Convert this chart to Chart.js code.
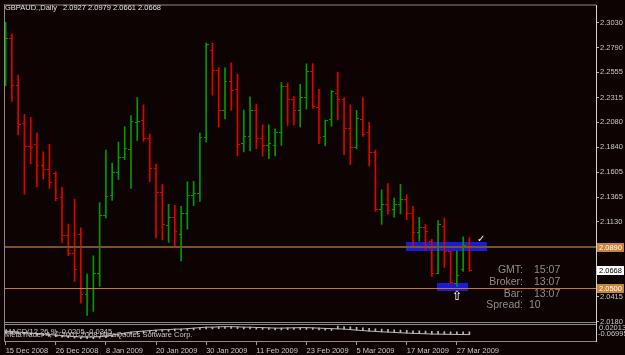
<!DOCTYPE html>
<html>
<head>
<meta charset="utf-8">
<script src="https://cdn.jsdelivr.net/npm/chart.js@4.4.1/dist/chart.umd.min.js"></script>
<style>
  html, body { margin: 0; padding: 0; background: #0d0303; }
  #ohlc { display: block; }
</style>
</head>
<body>
<canvas id="ohlc" width="625" height="355"></canvas>
<script>
const symbolTitle = "GBPAUD.,Daily";

const dates = [
  "15 Dec 2008", "16 Dec 2008", "17 Dec 2008", "18 Dec 2008", "19 Dec 2008", "22 Dec 2008", "23 Dec 2008", "24 Dec 2008",
  "26 Dec 2008", "29 Dec 2008", "30 Dec 2008", "31 Dec 2008", "2 Jan 2009", "5 Jan 2009", "6 Jan 2009", "7 Jan 2009",
  "8 Jan 2009", "9 Jan 2009", "12 Jan 2009", "13 Jan 2009", "14 Jan 2009", "15 Jan 2009", "16 Jan 2009", "19 Jan 2009",
  "20 Jan 2009", "21 Jan 2009", "22 Jan 2009", "23 Jan 2009", "26 Jan 2009", "27 Jan 2009", "28 Jan 2009", "29 Jan 2009",
  "30 Jan 2009", "2 Feb 2009", "3 Feb 2009", "4 Feb 2009", "5 Feb 2009", "6 Feb 2009", "9 Feb 2009", "10 Feb 2009",
  "11 Feb 2009", "12 Feb 2009", "13 Feb 2009", "16 Feb 2009", "17 Feb 2009", "18 Feb 2009", "19 Feb 2009", "20 Feb 2009",
  "23 Feb 2009", "24 Feb 2009", "25 Feb 2009", "26 Feb 2009", "27 Feb 2009", "2 Mar 2009", "3 Mar 2009", "4 Mar 2009",
  "5 Mar 2009", "6 Mar 2009", "9 Mar 2009", "10 Mar 2009", "11 Mar 2009", "12 Mar 2009", "13 Mar 2009", "16 Mar 2009",
  "17 Mar 2009", "18 Mar 2009", "19 Mar 2009", "20 Mar 2009", "23 Mar 2009", "24 Mar 2009", "25 Mar 2009", "26 Mar 2009",
  "27 Mar 2009", "30 Mar 2009", "31 Mar 2009"
];

const opens = [
  2.2600, 2.2879, 2.2429, 2.2070, 2.1844, 2.1872, 2.1664, 2.1633, 2.1589, 2.1362,
  2.1001, 2.0831, 2.1010, 2.0435, 2.0497, 2.0633, 2.1190, 2.1379, 2.1598, 2.1747,
  2.1822, 2.2080, 2.2096, 2.1926, 2.1636, 2.1412, 2.1095, 2.1174, 2.1010, 2.1214,
  2.1381, 2.1397, 2.1935, 2.2766, 2.2577, 2.2190, 2.2473, 2.2388, 2.1879, 2.1945,
  2.2190, 2.1922, 2.1860, 2.1860, 2.1979, 2.2417, 2.2294, 2.2190, 2.2313, 2.2564,
  2.2221, 2.1945, 2.2105, 2.2353, 2.2297, 2.2016, 2.1841, 2.2105, 2.1982, 2.1794,
  2.1252, 2.1294, 2.1246, 2.1294, 2.1344, 2.1209, 2.1032, 2.1079, 2.0947, 2.0639,
  2.1089, 2.0843, 2.0539, 2.0674, 2.0927
];
const highs = [
  2.3033, 2.2920, 2.2530, 2.2155, 2.2127, 2.1976, 2.1797, 2.1869, 2.1608, 2.1460,
  2.1110, 2.1346, 2.1073, 2.0633, 2.0806, 2.1315, 2.1815, 2.1690, 2.1891, 2.2039,
  2.2143, 2.2316, 2.2247, 2.1966, 2.1680, 2.1485, 2.1296, 2.1287, 2.1278, 2.1511,
  2.1516, 2.1976, 2.2835, 2.2835, 2.2599, 2.2599, 2.2646, 2.2536, 2.2196, 2.2322,
  2.2252, 2.2054, 2.2054, 2.2016, 2.2457, 2.2454, 2.2325, 2.2441, 2.2637, 2.2639,
  2.2394, 2.2101, 2.2382, 2.2558, 2.2316, 2.2247, 2.2193, 2.2316, 2.2080, 2.1815,
  2.1435, 2.1495, 2.1356, 2.1488, 2.1388, 2.1278, 2.1174, 2.1105, 2.0963, 2.1143,
  2.1167, 2.0853, 2.0853, 2.0988, 2.0979
];
const lows = [
  2.2429, 2.2278, 2.1960, 2.1394, 2.1686, 2.1466, 2.1539, 2.1450, 2.1331, 2.0931,
  2.0808, 2.0563, 2.0355, 2.0239, 2.0277, 2.0516, 2.1167, 2.1334, 2.1535, 2.1724,
  2.1450, 2.1907, 2.1898, 2.1513, 2.0978, 2.0957, 2.0935, 2.0891, 2.0758, 2.1060,
  2.1284, 2.1325, 2.1891, 2.2337, 2.2035, 2.2111, 2.2196, 2.1759, 2.1797, 2.1806,
  2.1828, 2.1756, 2.1733, 2.1759, 2.1860, 2.2049, 2.2054, 2.2035, 2.2205, 2.2212,
  2.1875, 2.1853, 2.2042, 2.2101, 2.1771, 2.1677, 2.1825, 2.1945, 2.1664, 2.1230,
  2.1105, 2.1205, 2.1174, 2.1205, 2.1152, 2.0893, 2.0947, 2.0859, 2.0610, 2.0633,
  2.0695, 2.0539, 2.0516, 2.0657, 2.0661
];
const closes = [
  2.2879, 2.2429, 2.2058, 2.1853, 2.1839, 2.1664, 2.1633, 2.1504, 2.1350, 2.1001,
  2.0831, 2.0680, 2.0435, 2.0497, 2.0639, 2.1190, 2.1372, 2.1598, 2.1747, 2.1828,
  2.2083, 2.2089, 2.1926, 2.1636, 2.1412, 2.1105, 2.1174, 2.1035, 2.1214, 2.1378,
  2.1397, 2.1935, 2.2819, 2.2577, 2.2190, 2.2473, 2.2379, 2.1869, 2.1945, 2.2190,
  2.1922, 2.1860, 2.1879, 2.1979, 2.2417, 2.2294, 2.2190, 2.2313, 2.2564, 2.2228,
  2.1938, 2.2096, 2.2369, 2.2297, 2.2016, 2.1841, 2.2111, 2.1960, 2.1794, 2.1252,
  2.1294, 2.1243, 2.1294, 2.1344, 2.1209, 2.1032, 2.1079, 2.1039, 2.0633, 2.1105,
  2.0843, 2.0554, 2.0617, 2.0909, 2.0668
];

// MACD sub window (signal line and histogram tips)
const macdSignal = [
  -0.0163, -0.0189, -0.0215, -0.0241, -0.0267, -0.0293, -0.0319, -0.0345, -0.0372, -0.0398,
  -0.0424, -0.0450, -0.0476, -0.0476, -0.0476, -0.0450, -0.0424, -0.0372, -0.0319, -0.0267,
  -0.0215, -0.0189, -0.0163, -0.0137, -0.0111, -0.0085, -0.0085, -0.0059, -0.0059, -0.0033,
  -0.0007, 0.0019, 0.0045, 0.0045, 0.0061, 0.0071, 0.0071, 0.0061, 0.0045, 0.0045,
  0.0029, 0.0019, 0.0009, -0.0007, -0.0007, 0.0003, 0.0009, 0.0019, 0.0019, 0.0009,
  -0.0007, -0.0023, -0.0033, -0.0043, -0.0059, -0.0085, -0.0111, -0.0137, -0.0163, -0.0179,
  -0.0200, -0.0215, -0.0231, -0.0252, -0.0267, -0.0283, -0.0293, -0.0304, -0.0319, -0.0319,
  -0.0330, -0.0335, -0.0340, -0.0345, -0.0345
];
const macdHist = [
  -0.0253, -0.0279, -0.0305, -0.0331, -0.0357, -0.0383, -0.0409, -0.0435, -0.0462, -0.0488,
  -0.0514, -0.0540, -0.0566, -0.0566, -0.0566, -0.0540, -0.0514, -0.0462, -0.0409, -0.0357,
  -0.0305, -0.0279, -0.0253, -0.0227, -0.0201, -0.0175, -0.0175, -0.0149, -0.0149, -0.0123,
  -0.0097, -0.0071, -0.0045, -0.0045, -0.0029, -0.0019, -0.0019, -0.0029, -0.0045, -0.0045,
  -0.0061, -0.0071, -0.0081, -0.0097, -0.0097, -0.0087, -0.0081, -0.0071, -0.0071, -0.0081,
  -0.0097, -0.0113, -0.0123, 0.0097, 0.0081, 0.0055, 0.0029, 0.0003, -0.0023, -0.0039,
  -0.0060, -0.0075, -0.0091, -0.0112, -0.0127, -0.0143, -0.0153, -0.0164, -0.0179, -0.0179,
  -0.0190, -0.0195, -0.0200, -0.0205, -0.0205
];

const dateTickIdx = [0, 8, 16, 24, 32, 40, 48, 56, 64, 72];
const priceTicks = [2.3030, 2.2790, 2.2555, 2.2315, 2.2080, 2.1840, 2.1605, 2.1365, 2.1130, 2.0890, 2.0415, 2.0180];
const macdLabels = ["0.02013", "-0.06995"];

// chart objects drawn on top of the bars
const levels = [2.0890, 2.0500];
const zones = [
  { from: 63.9, to: 76.9, top: 2.0938, bottom: 2.0853 },
  { from: 68.9, to: 73.9, top: 2.0548, bottom: 2.0469 }
];
const checkMark = { x: 75.9, y: 2.0966 };
const upArrow = { x: 72.0, y: 2.0419 };
const infoRows = [["GMT:", "15:07"], ["Broker:", "13:07"], ["Bar:", "13:07"], ["Spread:", "10"]];

const UP = "#009a00", DOWN = "#e00000";
const FONT = "Liberation Sans";
Chart.defaults.font.family = FONT;

function tickImage(color, side) {
  const c = document.createElement("canvas");
  c.width = 5; c.height = 1;
  const g = c.getContext("2d");
  g.fillStyle = color;
  if (side === "open") g.fillRect(0, 0, 2, 1);
  else g.fillRect(3, 0, 2, 1);
  return c;
}
const imgs = {
  openUp: tickImage(UP, "open"), openDown: tickImage(DOWN, "open"),
  closeUp: tickImage(UP, "close"), closeDown: tickImage(DOWN, "close")
};
const isUp = (i) => closes[i] > opens[i];

const mt4Plugin = {
  id: "mt4",
  beforeDraw(chart) {
    const c = chart.ctx;
    c.save();
    c.fillStyle = "#0d0303";
    c.fillRect(0, 0, chart.width, chart.height);
    c.restore();
    c.imageSmoothingEnabled = false;
  },
  beforeDatasetsDraw(chart) {
    const c = chart.ctx, xs = chart.scales.x, ys = chart.scales.y;
    c.save();
    c.fillStyle = "#1a1ad8";
    zones.forEach(z => {
      const x1 = xs.getPixelForValue(z.from), x2 = xs.getPixelForValue(z.to);
      const y1 = ys.getPixelForValue(z.top), y2 = ys.getPixelForValue(z.bottom);
      c.fillRect(Math.round(x1), Math.round(y1), Math.round(x2 - x1), Math.round(y2 - y1));
    });
    c.restore();
  },
  afterDatasetsDraw(chart) {
    const c = chart.ctx, a = chart.chartArea, xs = chart.scales.x, ys = chart.scales.y;
    c.save();
    // level lines
    const lvlColors = ["#7a5226", "#c87a34"];
    levels.forEach((v, k) => {
      const y = Math.round(ys.getPixelForValue(v));
      c.fillStyle = lvlColors[k];
      c.fillRect(a.left, y - (k === 0 ? 1 : 0), a.right - a.left, k === 0 ? 2 : 1);
    });
    // frame and sub window separators
    c.fillStyle = "#8a8a8a";
    c.fillRect(a.left - 1, a.top - 1, 1, a.bottom - a.top + 1);
    c.fillRect(a.left - 1, a.top - 1, a.right - a.left + 1, 1);
    c.fillRect(a.left - 1, 322, a.right - a.left + 1, 1);
    c.fillRect(a.left - 1, 324, a.right - a.left + 1, 1);
    c.fillRect(a.left - 1, a.bottom, a.right - a.left + 1, 1);

    // price tags on the right axis
    const tags = [
      { v: levels[0], bg: "#c8843c", fg: "#ffffff" },
      { v: closes[closes.length - 1], bg: "#ffffff", fg: "#000000" },
      { v: levels[1], bg: "#c8843c", fg: "#ffffff" }
    ];
    c.font = "7.5px " + FONT;
    c.textBaseline = "middle";
    c.textAlign = "left";
    tags.forEach(t => {
      const y = Math.round(ys.getPixelForValue(t.v));
      c.fillStyle = t.bg;
      c.fillRect(a.right + 1, y - 4, 27, 9);
      c.fillStyle = t.fg;
      c.fillText(t.v.toFixed(4), a.right + 3, y + 0.5);
    });

    // sub window scale labels
    c.fillStyle = "#c8c8c8";
    c.fillText(macdLabels[0], a.right + 3, 328);
    c.fillText(macdLabels[1], a.right + 2, 333.5);

    // header and indicator captions
    const n = closes.length - 1;
    c.fillStyle = "#e0e0e0";
    c.fillText(symbolTitle, 5, 7.5);
    c.fillText([opens[n], highs[n], lows[n], closes[n]].map(v => v.toFixed(4)).join(" "), 63, 7.5);
    c.fillStyle = "#c8c8c8";
    c.fillText("MACD(12,26,9) " + macdHist[n].toFixed(4) + " " + macdSignal[n].toFixed(4), 5, 331.5);
    c.fillText("MetaTrader 4, \u00a9 2001-2008 MetaQuotes Software Corp.", 5, 334.5);

    // clock panel
    c.font = "10.5px " + FONT;
    c.fillStyle = "#8e8e8e";
    infoRows.forEach((r, k) => {
      const y = 270.5 + k * 11.7;
      c.textAlign = "right";
      c.fillText(r[0], 523, y);
      c.textAlign = "left";
      c.fillText(r[1], r[0] === "Spread:" ? 529 : 534, y);
    });

    // arrow objects
    c.fillStyle = "#ffffff";
    c.textAlign = "center";
    c.font = "bold 10px DejaVu Sans";
    c.fillText("\u2713", xs.getPixelForValue(checkMark.x), ys.getPixelForValue(checkMark.y));
    c.font = "13px DejaVu Sans";
    c.fillText("\u21e7", xs.getPixelForValue(upArrow.x), ys.getPixelForValue(upArrow.y));
    c.restore();
  }
};

const idx = closes.map((_, i) => i);
const axisFont = { family: FONT, size: 7.5 };

new Chart(document.getElementById("ohlc").getContext("2d"), {
  type: "bar",
  data: {
    datasets: [
      {
        type: "scatter",
        data: idx.map(i => ({ x: i, y: opens[i] })),
        pointStyle: (ctx) => isUp(ctx.dataIndex) ? imgs.openUp : imgs.openDown,
        pointRadius: 1,
        yAxisID: "y"
      },
      {
        type: "scatter",
        data: idx.map(i => ({ x: i, y: closes[i] })),
        pointStyle: (ctx) => isUp(ctx.dataIndex) ? imgs.closeUp : imgs.closeDown,
        pointRadius: 1,
        yAxisID: "y"
      },
      {
        type: "bar",
        data: idx.map(i => ({ x: i, y: [lows[i], highs[i]] })),
        backgroundColor: (ctx) => isUp(ctx.dataIndex) ? UP : DOWN,
        borderWidth: 0,
        barThickness: 1,
        grouped: false,
        yAxisID: "y"
      },
      {
        type: "line",
        data: idx.map(i => ({ x: i, y: macdSignal[i] })),
        borderColor: "#b8b8b8",
        borderWidth: 1,
        pointRadius: 0,
        tension: 0,
        yAxisID: "macd"
      },
      {
        type: "bar",
        data: idx.map(i => ({ x: i, y: [macdSignal[i], macdHist[i]] })),
        backgroundColor: "#b8b8b8",
        borderWidth: 0,
        barThickness: 1,
        grouped: false,
        yAxisID: "macd"
      }
    ]
  },
  options: {
    responsive: false,
    devicePixelRatio: 1,
    animation: false,
    events: [],
    layout: { padding: { left: 2, top: 2, right: 0, bottom: 0 } },
    plugins: { legend: { display: false }, tooltip: { enabled: false } },
    scales: {
      x: {
        type: "linear",
        min: -0.1,
        max: 94.2,
        offset: false,
        afterBuildTicks: (s) => { s.ticks = dateTickIdx.map(v => ({ value: v })); },
        afterFit: (s) => { s.height = 14; },
        ticks: {
          align: "start",
          autoSkip: false,
          maxRotation: 0,
          padding: 1,
          color: "#c8c8c8",
          font: axisFont,
          callback: (v) => dates[v]
        },
        grid: { offset: false, drawOnChartArea: false, tickLength: 4, color: "#9a9a9a" },
        border: { display: false }
      },
      y: {
        type: "linear",
        position: "right",
        min: 1.9994,
        max: 2.3193,
        afterBuildTicks: (s) => { s.ticks = priceTicks.map(v => ({ value: v })); },
        afterFit: (s) => { s.width = 29; },
        ticks: {
          autoSkip: false,
          padding: 1,
          color: "#c8c8c8",
          font: axisFont,
          callback: (v) => v.toFixed(4)
        },
        grid: { drawOnChartArea: false, tickLength: 3, color: "#b0b0b0" },
        border: { display: true, color: "#d0d0d0", width: 1 }
      },
      macd: {
        type: "linear",
        display: false,
        min: -0.0684,
        max: 1.6968
      }
    }
  },
  plugins: [mt4Plugin]
});
</script>
</body>
</html>
